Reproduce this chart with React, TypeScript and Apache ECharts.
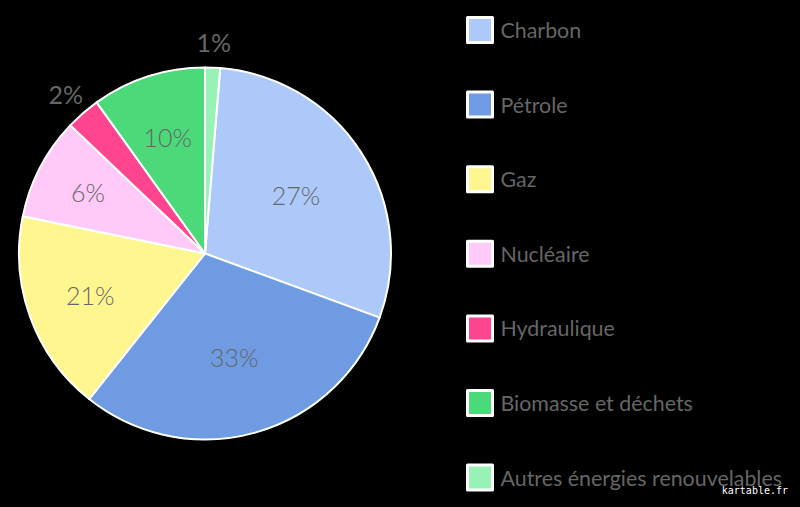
import React, { useEffect, useRef } from "react";
import * as echarts from "echarts";

// Energy sources (legend order = clockwise order of the slices)
const categories = [
  "Charbon",
  "Pétrole",
  "Gaz",
  "Nucléaire",
  "Hydraulique",
  "Biomasse et déchets",
  "Autres énergies renouvelables",
];
// Slice sizes as drawn in the picture (angular share, %)
const sliceShares = [29.3, 30.1, 17.5, 8.9, 3.0, 9.9, 1.3];
// Percent labels printed on the slices
const labelTexts = ["27%", "33%", "21%", "6%", "2%", "10%", "1%"];
const colors = ["#adc9fa", "#6e9be2", "#fff690", "#ffcaf7", "#ff4590", "#4bd97a", "#99f2b5"];

const FONT = "Lato";
const R = 186;

export default function App() {
  const ref = useRef<HTMLDivElement>(null);
  useEffect(() => {
    if (!ref.current) return;
    const chart = echarts.init(ref.current, undefined, { renderer: "svg" });
    const total = sliceShares.reduce((a, b) => a + b, 0);
    const startAngle = 90 - (sliceShares[sliceShares.length - 1] / total) * 360;
    const data = categories.map((name, i) => ({
      name,
      value: sliceShares[i],
      itemStyle: { color: colors[i] },
    }));
    const ghost = (mid: number, shown: string[], weight: number | string) => ({
      type: "pie",
      silent: true,
      center: [205, 253.5],
      radius: [0, mid * 2],
      startAngle,
      clockwise: true,
      avoidLabelOverlap: false,
      labelLine: { show: false },
      emphasis: { disabled: true },
      itemStyle: { color: "transparent", borderWidth: 0 },
      data: categories.map((name, i) => ({
        name,
        value: sliceShares[i],
        itemStyle: { color: "transparent", borderWidth: 0 },
        label: { show: shown.includes(name) },
      })),
      label: {
        show: true,
        position: "inside",
        formatter: (p: any) => labelTexts[p.dataIndex],
        color: "#666",
        fontFamily: FONT,
        fontWeight: weight,
        fontSize: 25,
      },
    });
    chart.setOption({
      animation: false,
      backgroundColor: "#000",
      legend: {
        orient: "vertical",
        left: 466,
        top: 16,
        height: 500,
        padding: 0,
        itemWidth: 25,
        itemHeight: 25,
        itemGap: 46.6,
        icon: "rect",
        selectedMode: false,
        data: categories,
        itemStyle: { borderColor: "#fff", borderWidth: 3 },
        textStyle: {
          color: "#666",
          fontFamily: FONT,
          fontSize: 21.4,
          padding: [0, 0, 0, 3],
        },
      },
      graphic: [
        {
          type: "text",
          right: 12,
          top: 485,
          style: {
            text: "kartable.fr",
            fill: "#fff",
            font: '10px "DejaVu Sans Mono"',
          },
        },
      ],
      series: [
        {
          type: "pie",
          center: [205, 253.5],
          radius: [0, R],
          startAngle,
          clockwise: true,
          label: { show: false },
          labelLine: { show: false },
          emphasis: { disabled: true },
          itemStyle: { borderColor: "#fff", borderWidth: 2 },
          data,
        },
        ghost(105, ["Charbon", "Pétrole"], 300),
        ghost(119, ["Gaz", "Biomasse et déchets"], 300),
        ghost(129, ["Nucléaire"], 300),
        ghost(209, ["Hydraulique", "Autres énergies renouvelables"], "normal"),
      ],
    });
    return () => chart.dispose();
  }, []);
  return (
    <div
      ref={ref}
      style={{ position: "absolute", left: 0, top: 0, width: 800, height: 507 }}
    />
  );
}
